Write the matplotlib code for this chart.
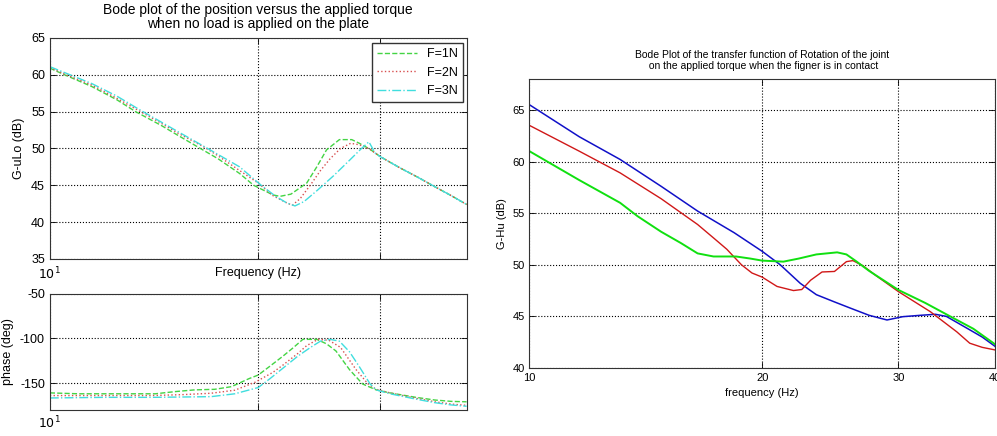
import numpy as np
import matplotlib.pyplot as plt
from matplotlib.ticker import NullLocator

plt.rcParams['font.family'] = ['Liberation Sans', 'DejaVu Sans']
plt.rcParams['axes.unicode_minus'] = False

# --- left: magnitude, no load (Hz, dB) ---
f_mag_1n = [10, 10.5, 11.5, 12.5, 13.3, 14.5, 15.3, 16.5, 17.5, 18.8, 19.7, 21.0, 21.5, 22.3,
            23.5, 24.3, 25.1, 26.2, 27.3, 28.0, 29.0, 30, 32, 34, 36, 38, 40]
mag_1n = [60.9, 60.0, 58.4, 56.6, 55.0, 53.1, 51.8, 50.0, 48.6, 46.6, 45.0, 43.7, 43.5, 43.8,
          45.3, 47.5, 49.8, 51.2, 51.2, 50.7, 49.9, 48.9, 47.4, 46.1, 44.8, 43.6, 42.4]

f_mag_2n = [10, 10.5, 11.5, 12.5, 13.4, 14.5, 15.3, 16.7, 17.5, 18.8, 20.0, 21.0, 22.0, 22.4,
            23.0, 23.9, 24.6, 25.4, 26.3, 27.2, 28.0, 29.0, 30, 32, 34, 36, 38, 40]
mag_2n = [61.0, 60.1, 58.6, 56.8, 55.2, 53.4, 52.1, 50.2, 49.0, 47.0, 45.3, 43.6, 42.6, 42.3,
          43.2, 45.3, 47.0, 48.6, 50.0, 50.7, 50.5, 49.9, 48.9, 47.4, 46.1, 44.8, 43.6, 42.4]

f_mag_3n = [10, 10.5, 11.5, 12.5, 13.4, 15.3, 16.9, 18.8, 20.2, 21.2, 22.0, 22.6, 23.3, 24.4,
            25.7, 27.1, 28.2, 28.9, 29.5, 30, 32, 34, 36, 38, 40]
mag_3n = [61.1, 60.3, 58.8, 57.1, 55.4, 52.3, 50.0, 47.5, 45.0, 43.5, 42.6, 42.2, 42.8, 44.4,
          46.3, 48.4, 50.0, 50.9, 49.4, 48.9, 47.4, 46.1, 44.8, 43.6, 42.4]

# --- left: phase (Hz, deg) ---
f_ph_1n = [10, 11, 12.5, 14.2, 15.2, 16.2, 17.3, 18.3, 19.4, 20.0, 20.8, 21.7, 22.5, 23.2,
           24.3, 25.1, 25.9, 27.1, 28.3, 29.6, 31, 33.8, 36, 38, 40]
ph_1n = [-161, -162, -162, -162, -159.5, -157.6, -157, -154, -145, -141, -131, -120, -110, -101,
         -101, -106, -114, -135, -151, -157.6, -161, -166, -169, -170.5, -171]

f_ph_2n = [10, 12, 14, 15.5, 17.1, 18.5, 19.8, 21.0, 21.7, 22.8, 23.5, 24.4, 25.3, 26.3,
           27.7, 28.8, 29.6, 31, 33.8, 36, 38, 40]
ph_2n = [-164, -164, -164, -163, -161.4, -158, -149, -138, -130, -117, -108, -101, -102, -110,
         -135, -150.7, -157, -161, -167, -171, -173.5, -175]

f_ph_3n = [10, 12, 14, 16, 17.1, 18.5, 20.0, 20.8, 21.7, 22.8, 23.8, 24.6, 25.4, 26.2,
           27.1, 28.0, 29.0, 29.6, 31, 33.8, 36, 38, 40]
ph_3n = [-166.7, -166, -166, -165.5, -165.2, -162, -155, -145, -133.5, -120, -110, -103, -101, -103,
         -115, -131.7, -150.7, -157.6, -162, -168, -172, -174.5, -176]

# --- right: finger in contact (Hz, dB) ---
f_blue = [10, 11.6, 13.1, 14.8, 16.5, 18.4, 20.0, 21.1, 22.4, 23.5, 24.8, 26.0, 27.5, 29.0,
          30.4, 32, 33.5, 34.6, 36.8, 38.5, 40]
mag_blue = [65.5, 62.4, 60.2, 57.6, 55.2, 53.1, 51.3, 50.0, 48.2, 47.1, 46.4, 45.8, 45.1, 44.65,
            44.97, 45.1, 45.2, 45.0, 43.85, 43.0, 42.1]

f_red = [10, 11.6, 13.1, 14.8, 16.5, 17.3, 18.0, 18.8, 19.4, 20.0, 20.9, 21.95, 22.5, 23.1,
         23.9, 24.8, 25.7, 26.2, 27.0, 28.0, 30, 33.0, 35.7, 37.1, 38.5, 40]
mag_red = [63.5, 61.0, 58.9, 56.4, 53.9, 52.6, 51.5, 50.0, 49.2, 48.8, 47.9, 47.5, 47.6, 48.5,
           49.3, 49.35, 50.3, 50.4, 49.9, 49.0, 47.4, 45.45, 43.5, 42.4, 42.0, 41.75]

f_green = [10, 11.6, 13.1, 13.8, 14.8, 15.7, 16.5, 17.3, 18.5, 19.3, 20.0, 21.3, 22.3, 23.5,
           25.0, 25.7, 26.5, 27.5, 30, 32.5, 35.0, 37.5, 40]
mag_green = [61.0, 58.2, 56.0, 54.7, 53.2, 52.1, 51.1, 50.8, 50.8, 50.6, 50.4, 50.3, 50.6, 51.0,
             51.2, 51.0, 50.3, 49.4, 47.56, 46.3, 45.0, 43.8, 42.3]

legend_labels = ['F=1N', 'F=2N', 'F=3N']

c_g = '#44d444'
c_r = '#d85050'
c_c = '#40dede'


def matlab_style(ax, fs):
    ax.tick_params(direction='in', top=True, right=True, labelsize=fs, length=4, width=0.6)
    ax.grid(True, which='major', linestyle=':', color='k', linewidth=0.8)
    for s in ax.spines.values():
        s.set_color('#333333')
        s.set_linewidth(0.8)


fig = plt.figure(figsize=(9.97, 4.36), dpi=100)

# top left: magnitude
ax1 = fig.add_axes([0.050, 0.406, 0.418, 0.507])
ax1.semilogx(f_mag_1n, mag_1n, '--', color=c_g, lw=1.0, label=legend_labels[0])
ax1.semilogx(f_mag_2n, mag_2n, ':', color=c_r, lw=1.0, label=legend_labels[1])
ax1.semilogx(f_mag_3n, mag_3n, '-.', color=c_c, lw=1.0, label=legend_labels[2])
ax1.set_xlim(10, 40)
ax1.set_ylim(35, 65)
ax1.set_yticks([35, 40, 45, 50, 55, 60, 65])
ax1.set_xticks([10, 20, 30])
ax1.set_xticklabels(['$10^{1}$', '', ''])
ax1.xaxis.set_minor_locator(NullLocator())
ax1.set_xlabel('Frequency (Hz)', fontsize=9)
ax1.xaxis.set_label_coords(0.5, -0.035)
ax1.set_ylabel('G-uLo (dB)', fontsize=9)
matlab_style(ax1, 9)
ax1.tick_params(axis='x', pad=5)
leg = ax1.legend(loc='upper right', bbox_to_anchor=(0.992, 0.975), borderaxespad=0,
                 fancybox=False, edgecolor='#333333', fontsize=9, handlelength=3.2,
                 framealpha=1)
leg.get_frame().set_linewidth(1.0)

# bottom left: phase
ax2 = fig.add_axes([0.050, 0.060, 0.418, 0.266])
ax2.semilogx(f_ph_1n, ph_1n, '--', color=c_g, lw=1.0)
ax2.semilogx(f_ph_2n, ph_2n, ':', color=c_r, lw=1.0)
ax2.semilogx(f_ph_3n, ph_3n, '-.', color=c_c, lw=1.0)
ax2.set_xlim(10, 40)
ax2.set_ylim(-180, -50)
ax2.set_yticks([-150, -100, -50])
ax2.set_xticks([10, 20, 30])
ax2.set_xticklabels(['$10^{1}$', '', ''])
ax2.xaxis.set_minor_locator(NullLocator())
ax2.set_ylabel('phase (deg)', fontsize=9)
matlab_style(ax2, 9)

fig.text(258 / 997, 1 - 17 / 436,
         'Bode plot of the position versus the applied torque\nwhen no load is applied on the plate',
         ha='center', va='center', fontsize=10, linespacing=0.95)

# right: finger in contact
ax3 = fig.add_axes([0.531, 0.156, 0.467, 0.663])
ax3.semilogx(f_blue, mag_blue, '-', color='#1010c8', lw=1.1)
ax3.semilogx(f_red, mag_red, '-', color='#d01818', lw=1.0)
ax3.semilogx(f_green, mag_green, '-', color='#10e010', lw=1.4)
ax3.set_xlim(10, 40)
ax3.set_ylim(40, 68)
ax3.set_yticks([40, 45, 50, 55, 60, 65])
ax3.set_xticks([10, 20, 30, 40])
ax3.set_xticklabels(['10', '20', '30', '40'])
ax3.xaxis.set_minor_locator(NullLocator())
ax3.set_xlabel('frequency (Hz)', fontsize=8)
ax3.set_ylabel('G-Hu (dB)', fontsize=8)
matlab_style(ax3, 8)
ax3.set_title('Bode Plot of the transfer function of Rotation of the joint\n'
              ' on the applied torque when the figner is in contact',
              fontsize=7.5, linespacing=1.2, pad=7)

fig.savefig('out.png', dpi=100)
